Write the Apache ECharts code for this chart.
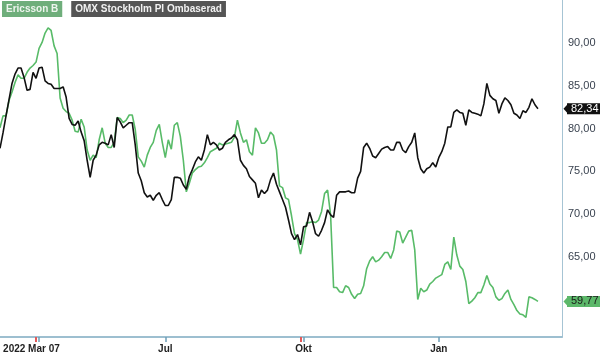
<!DOCTYPE html>
<html>
<head>
<meta charset="utf-8">
<script src="https://cdn.jsdelivr.net/npm/echarts@6/dist/echarts.min.js"></script>
<style>
  html, body { margin: 0; padding: 0; background: #fff; }
  #chart { width: 600px; height: 355px; }
</style>
</head>
<body>
<div id="chart"></div>
<script>
// kurser, en punkt per handelsdag-ish (läst från bilden)
const ericsson = [
  80.1, 81.5, 81.5, 83.3, 84.3, 85.4, 86.3, 85.9, 85.9, 86.6,
  87.1, 87.4, 87.8, 89.4, 90.1, 91.2, 91.8, 91.5, 89.7, 88.8,
  83.6, 82.4, 82.0, 81.8, 81.0, 79.7, 79.6, 81.1, 80.2, 77.5,
  76.3, 76.9, 76.6, 78.7, 80.1, 78.3, 77.8, 77.8, 78.4, 81.3,
  81.2, 80.7, 81.0, 81.6, 81.6, 79.9, 76.7, 76.2, 75.5, 76.9,
  77.8, 78.4, 79.8, 80.5, 78.4, 76.6, 78.7, 77.6, 80.4, 80.7,
  79.1, 76.3, 72.6, 73.6, 74.8, 75.2, 75.5, 75.6, 76.0, 76.6,
  77.3, 77.5, 77.7, 78.3, 78.1, 78.2, 78.3, 78.4, 79.0, 81.0,
  79.5, 78.4, 78.7, 77.3, 76.9, 80.1, 79.5, 78.3, 78.3, 78.7,
  79.6, 79.2, 77.5, 73.3, 73.1, 71.9, 71.7, 69.8, 67.7, 67.0,
  65.3, 67.0, 69.0, 69.0, 69.1, 69.0, 69.3, 70.3, 72.4, 72.8,
  69.9, 61.4, 61.4, 60.9, 60.8, 61.6, 61.4, 60.6, 60.1, 60.6,
  60.7, 61.6, 63.6, 64.5, 65.0, 64.4, 64.6, 65.0, 65.5, 65.5,
  64.8, 65.8, 68.0, 67.9, 66.6, 67.3, 68.0, 68.1, 65.8, 60.0,
  61.3, 60.9, 61.1, 61.8, 62.1, 62.5, 62.7, 62.9, 64.1, 64.4,
  63.5, 67.3, 65.2, 63.9, 63.5, 62.1, 59.5, 59.8, 60.2, 60.8,
  60.8, 61.7, 62.8, 61.8, 61.4, 60.3, 59.9, 60.1, 60.7, 61.1,
  60.0, 59.4, 58.7, 58.3, 58.2, 57.9, 60.3, 60.2, 60.0, 59.77
]

const omx = [
  77.7, 79.5, 81.5, 83.4, 85.3, 86.4, 87.1, 87.1, 86.0, 84.5,
  84.6, 86.6, 85.9, 87.1, 87.2, 85.6, 85.3, 85.2, 84.7, 84.7,
  84.7, 84.9, 83.7, 81.2, 80.5, 80.4, 80.9, 79.6, 78.6, 76.3,
  74.3, 76.3, 76.9, 78.1, 78.4, 78.3, 78.1, 79.3, 77.8, 81.3,
  80.8, 80.1, 80.4, 80.7, 80.7, 78.1, 74.8, 73.9, 72.5, 72.0,
  72.2, 71.6, 72.2, 72.5, 71.7, 71.0, 71.0, 71.7, 74.3, 74.3,
  74.2, 73.4, 72.9, 74.4, 75.2, 76.1, 76.7, 76.3, 77.5, 79.3,
  78.1, 78.4, 78.1, 77.5, 77.7, 78.4, 78.7, 78.9, 79.3, 78.7,
  76.3, 75.7, 75.3, 74.4, 74.0, 73.6, 71.9, 72.8, 72.4, 72.8,
  74.0, 74.8, 73.5, 72.6, 71.7, 70.8, 69.3, 67.7, 67.0, 67.6,
  66.4, 68.5, 68.6, 70.2, 69.1, 67.7, 67.4, 68.1, 69.0, 70.5,
  69.9, 69.6, 72.2, 72.6, 72.6, 72.6, 72.7, 72.5, 72.5, 74.2,
  75.0, 77.8, 78.3, 77.7, 76.8, 76.6, 77.1, 77.6, 77.8, 77.9,
  77.5, 77.5, 78.4, 78.4, 77.5, 77.2, 77.9, 78.4, 79.5, 76.6,
  75.3, 74.8, 75.3, 75.5, 76.0, 75.5, 76.6, 77.3, 78.3, 80.2,
  80.2, 81.9, 82.2, 81.9, 81.8, 80.4, 82.2, 81.9, 81.8, 81.7,
  81.5, 82.9, 85.3, 83.9, 83.5, 83.3, 81.8, 82.9, 83.6, 83.3,
  82.8, 81.8, 81.6, 81.2, 82.1, 81.9, 82.5, 83.5, 82.8, 82.34
]

const seriesNames = ['Ericsson B', 'OMX Stockholm PI Ombaserad']

// x-axelns etiketter och var de sitter
const tickLabels = ['2022 Mar 07', 'Jul', 'Okt', 'Jan']
const tickIndex = [13, 55, 101, 146]
// röda markeringar strax före Mar 07 och Okt
const redTickIndex = [12, 100]
const categoryCount = 188

const fmt = v => v.toFixed(2).replace('.', ',')

const categories = []
for (let i = 0; i < categoryCount; i++) categories.push(String(i))

const isTick = index => tickIndex.indexOf(index) >= 0

const chart = echarts.init(document.getElementById('chart'), null, { renderer: 'canvas' })

// prislapp vid y-axeln med liten pil
const tagLine = (value, bg, color) => ({
  silent: true,
  symbol: ['none', 'path://M0,5 L6,0 L6,10 Z'],
  symbolSize: [5, 11],
  symbolRotate: 0,
  symbolOffset: [0, [4, 0]],
  lineStyle: { color: bg, width: 0, type: 'solid' },
  label: {
    show: true,
    position: 'end',
    distance: 5,
    formatter: fmt(value),
    backgroundColor: bg,
    color: color,
    fontFamily: 'Liberation Sans',
    fontSize: 11,
    lineHeight: 11,
    padding: [0, 4, 0, 4]
  },
  emphasis: { disabled: true },
  data: [{ yAxis: value }]
})

const legendText = (bg, color) => ({
  color: color,
  backgroundColor: bg,
  fontWeight: 'bold',
  fontSize: 10,
  lineHeight: 12,
  padding: [2, 4, 2, 4]
})

const option = {
  animation: false,
  backgroundColor: '#fff',
  textStyle: { fontFamily: 'Liberation Sans' },
  legend: {
    left: -3,
    top: 1,
    padding: 0,
    icon: 'none',
    itemWidth: 0,
    itemHeight: 0,
    itemGap: 4,
    selectedMode: false,
    data: [
      { name: seriesNames[0], textStyle: legendText('#6fae7b', '#eef5ee') },
      { name: seriesNames[1], textStyle: legendText('#555555', '#f2f2f2') }
    ]
  },
  grid: { left: 0, right: 38, top: 0, bottom: 18, containLabel: false },
  xAxis: [
    {
      type: 'category',
      data: categories,
      boundaryGap: false,
      axisLine: { lineStyle: { color: '#9dbfd0', width: 2 } },
      axisTick: {
        show: true,
        interval: index => isTick(index),
        length: 5,
        lineStyle: { color: '#6f9fb8', width: 1.5 }
      },
      axisLabel: {
        interval: index => isTick(index),
        formatter: value => {
          const k = tickIndex.indexOf(Number(value))
          if (k === 0) return '{first|' + tickLabels[0] + '}'
          return k >= 0 ? tickLabels[k] : ''
        },
        rich: {
          first: { width: 72, align: 'left', fontWeight: 'bold', fontSize: 10, color: '#222' }
        },
        color: '#222',
        fontWeight: 'bold',
        fontSize: 10,
        margin: 7
      },
      splitLine: { show: false }
    },
    {
      type: 'category',
      data: categories,
      boundaryGap: false,
      position: 'bottom',
      axisLine: { show: false },
      axisTick: {
        show: true,
        interval: index => redTickIndex.indexOf(index) >= 0,
        length: 5,
        lineStyle: { color: '#e25a5a', width: 2 }
      },
      axisLabel: { show: false },
      splitLine: { show: false }
    }
  ],
  yAxis: {
    type: 'value',
    position: 'right',
    min: 55.6,
    max: 95.07,
    splitNumber: 8,
    axisLine: { show: true, lineStyle: { color: '#a6c4d4', width: 1 } },
    axisTick: { show: false },
    splitLine: { show: false },
    axisLabel: {
      color: '#3a4350',
      fontSize: 11,
      margin: 6,
      showMinLabel: false,
      showMaxLabel: false,
      formatter: v => (v > 92 || v < 62) ? '' : fmt(v)
    }
  },
  series: [
    {
      name: seriesNames[0],
      type: 'line',
      data: ericsson,
      showSymbol: false,
      lineStyle: { color: '#58bb68', width: 1.6 },
      itemStyle: { color: '#58bb68' },
      markLine: tagLine(ericsson[ericsson.length - 1], '#5cb86a', '#1a1a1a')
    },
    {
      name: seriesNames[1],
      type: 'line',
      data: omx,
      showSymbol: false,
      lineStyle: { color: '#111', width: 1.6 },
      itemStyle: { color: '#111' },
      markLine: tagLine(omx[omx.length - 1], '#111', '#fff')
    }
  ]
}

chart.setOption(option)
</script>
</body>
</html>
